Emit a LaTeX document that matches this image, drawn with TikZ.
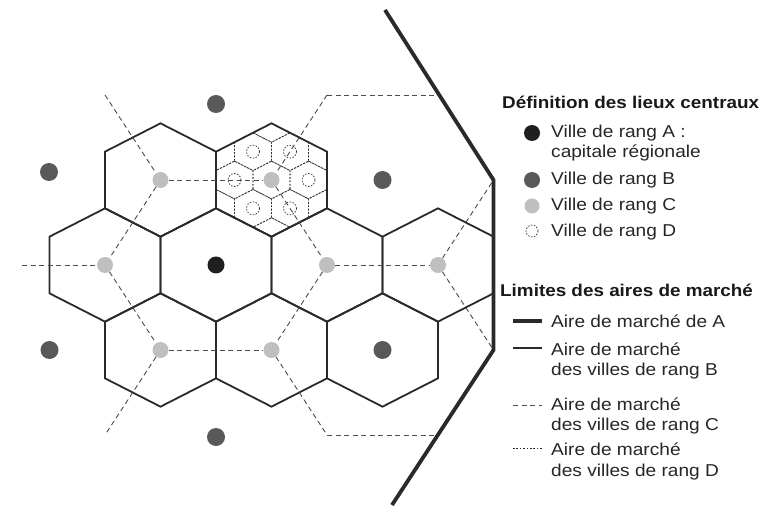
\documentclass[tikz,border=0pt]{standalone}
\usepackage{fontspec}
\setmainfont[FakeStretch=1.11]{Liberation Sans}
\definecolor{lc}{HTML}{2A2A2A}
\newcommand\mkhex[2]{\draw[bhex] (#1,#2) ++(0,-56.67) -- ++(55.5,28.33) -- ++(0,56.67) -- ++(-55.5,28.33) -- ++(-55.5,-28.33) -- ++(0,-56.67) -- cycle;}
\newcommand\mksmallhex[2]{\draw[dhexs] (#1,#2) ++(0,-18.89) -- ++(18.5,9.44) -- ++(0,18.89) -- ++(-18.5,9.44) -- ++(-18.5,-9.44) -- ++(0,-18.89) -- cycle;}
\begin{document}
\begin{tikzpicture}[x=1pt,y=-1pt,
  bhex/.style={draw=lc,line width=1.8pt,line join=miter},
  cline/.style={draw=lc!85,line width=0.9pt,dash pattern=on 5pt off 3.5pt},
  dhexs/.style={draw=lc,line width=0.75pt,dash pattern=on 1.6pt off 1.8pt},
  amark/.style={draw=lc,line width=3.8pt},
  dota/.style={circle,fill=black!88,minimum size=17pt,inner sep=0},
  dotb/.style={circle,fill=black!65,minimum size=18pt,inner sep=0},
  dotc/.style={circle,fill=black!25,minimum size=16pt,inner sep=0},
  dotd/.style={circle,draw=lc,line width=0.7pt,dash pattern=on 1.5pt off 1.5pt,minimum size=13pt,inner sep=0},
  leg/.style={anchor=base west,inner sep=0,font=\fontsize{17.2}{20}\selectfont,text=black!85},
  legt/.style={anchor=base west,inner sep=0,font=\bfseries\fontsize{17}{20}\selectfont,text=black!90}
]
\useasboundingbox (0,0) rectangle (765,510);
% free coordinates
\coordinate (p1) at (105,95);
\coordinate (p2) at (327,95);
\coordinate (p3) at (438,95);
\coordinate (p4) at (493.5,180);
\coordinate (p5) at (493.5,350);
\coordinate (p6) at (327,435);
\coordinate (p7) at (438,435);
\coordinate (p8) at (22,265);
\coordinate (p9) at (105,435);
\coordinate (t0) at (385,10);
\coordinate (t3) at (392,505);
% dotted D-market lattice inside the C hexagon
\begin{scope}
\clip (271.5,180) ++(0,-56.67) -- ++(55.5,28.33) -- ++(0,56.67) -- ++(-55.5,28.33) -- ++(-55.5,-28.33) -- ++(0,-56.67) -- cycle;
\foreach \i in {-4,-2,0,2,4} \foreach \j in {-2,0,2} {\mksmallhex{271.5+18.5*\i}{180+28.33*\j}}
\foreach \i in {-5,-3,-1,1,3,5} \foreach \j in {-3,-1,1,3} {\mksmallhex{271.5+18.5*\i}{180+28.33*\j}}
\end{scope}
% B market hexagons
\mkhex{160.5}{180}
\mkhex{271.5}{180}
\mkhex{105}{265}
\mkhex{216}{265}
\mkhex{327}{265}
\mkhex{438}{265}
\mkhex{160.5}{350}
\mkhex{271.5}{350}
\mkhex{382.5}{350}
% cities
\node[dota] (a) at (216,265) {};
\node[dotb] (b1) at (216,104) {};
\node[dotb] (b2) at (49,172) {};
\node[dotb] (b3) at (382.5,180) {};
\node[dotb] (b4) at (49.5,350) {};
\node[dotb] (b5) at (382.5,350) {};
\node[dotb] (b6) at (216,437) {};
\node[dotc] (c1) at (160.5,180) {};
\node[dotc] (c2) at (271.5,180) {};
\node[dotc] (c3) at (105,265) {};
\node[dotc] (c4) at (327,265) {};
\node[dotc] (c5) at (438,265) {};
\node[dotc] (c6) at (160.5,350) {};
\node[dotc] (c7) at (271.5,350) {};
\node[dotd] (d1) at (253,151.67) {};
\node[dotd] (d2) at (290,151.67) {};
\node[dotd] (d3) at (234.5,180) {};
\node[dotd] (d4) at (308.5,180) {};
\node[dotd] (d5) at (253,208.33) {};
\node[dotd] (d6) at (290,208.33) {};
% C market limits
\draw[cline] (p1) -- (c1);
\draw[cline] (c1) -- (c2);
\draw[cline] (c1) -- (c3);
\draw[cline] (p2) -- (p3);
\draw[cline] (p2) -- (c2);
\draw[cline] (c2) -- (c4);
\draw[cline] (c4) -- (c5);
\draw[cline] (c5) -- (p4);
\draw[cline] (c5) -- (p5);
\draw[cline] (c4) -- (c7);
\draw[cline] (c7) -- (p6);
\draw[cline] (p6) -- (p7);
\draw[cline] (p8) -- (c3);
\draw[cline] (c3) -- (c6);
\draw[cline] (c6) -- (c7);
\draw[cline] (c6) -- (p9);
% A market limit
\draw[amark,line join=miter] (t0) -- (p4) -- (p5) -- (t3);
% legend
\node[legt] (h1) at (502,109) {Définition des lieux centraux};
\node[dota,minimum size=16pt] (la) at (532,133) {};
\node[dotb,minimum size=16pt] (lb) at (532,180) {};
\node[dotc,minimum size=15pt] (lcc) at (532,206) {};
\node[dotd,minimum size=12pt] (ld) at (532,231) {};
\node[leg] (ta) at (551,138) {Ville de rang A :};
\node[leg] (ta2) at (551,158) {capitale régionale};
\node[leg] (tb) at (551,185) {Ville de rang B};
\node[leg] (tc) at (551,211) {Ville de rang C};
\node[leg] (td) at (551,237) {Ville de rang D};
\node[legt] (h2) at (500,296.5) {Limites des aires de marché};
\coordinate (l1a) at (513,321); \coordinate (l1b) at (542,321);
\coordinate (l2a) at (513,348); \coordinate (l2b) at (542,348);
\coordinate (l3a) at (513,405); \coordinate (l3b) at (542,405);
\coordinate (l4a) at (513,448); \coordinate (l4b) at (542,448);
\draw[amark] (l1a) -- (l1b);
\draw[bhex] (l2a) -- (l2b);
\draw[cline] (l3a) -- (l3b);
\draw[dhexs] (l4a) -- (l4b);
\node[leg] (m1) at (551,327) {Aire de marché de A};
\node[leg] (m2) at (551,355) {Aire de marché};
\node[leg] (m2b) at (551,375) {des villes de rang B};
\node[leg] (m3) at (551,410) {Aire de marché};
\node[leg] (m3b) at (551,430) {des villes de rang C};
\node[leg] (m4) at (551,455) {Aire de marché};
\node[leg] (m4b) at (551,476) {des villes de rang D};
\end{tikzpicture}
\end{document}
